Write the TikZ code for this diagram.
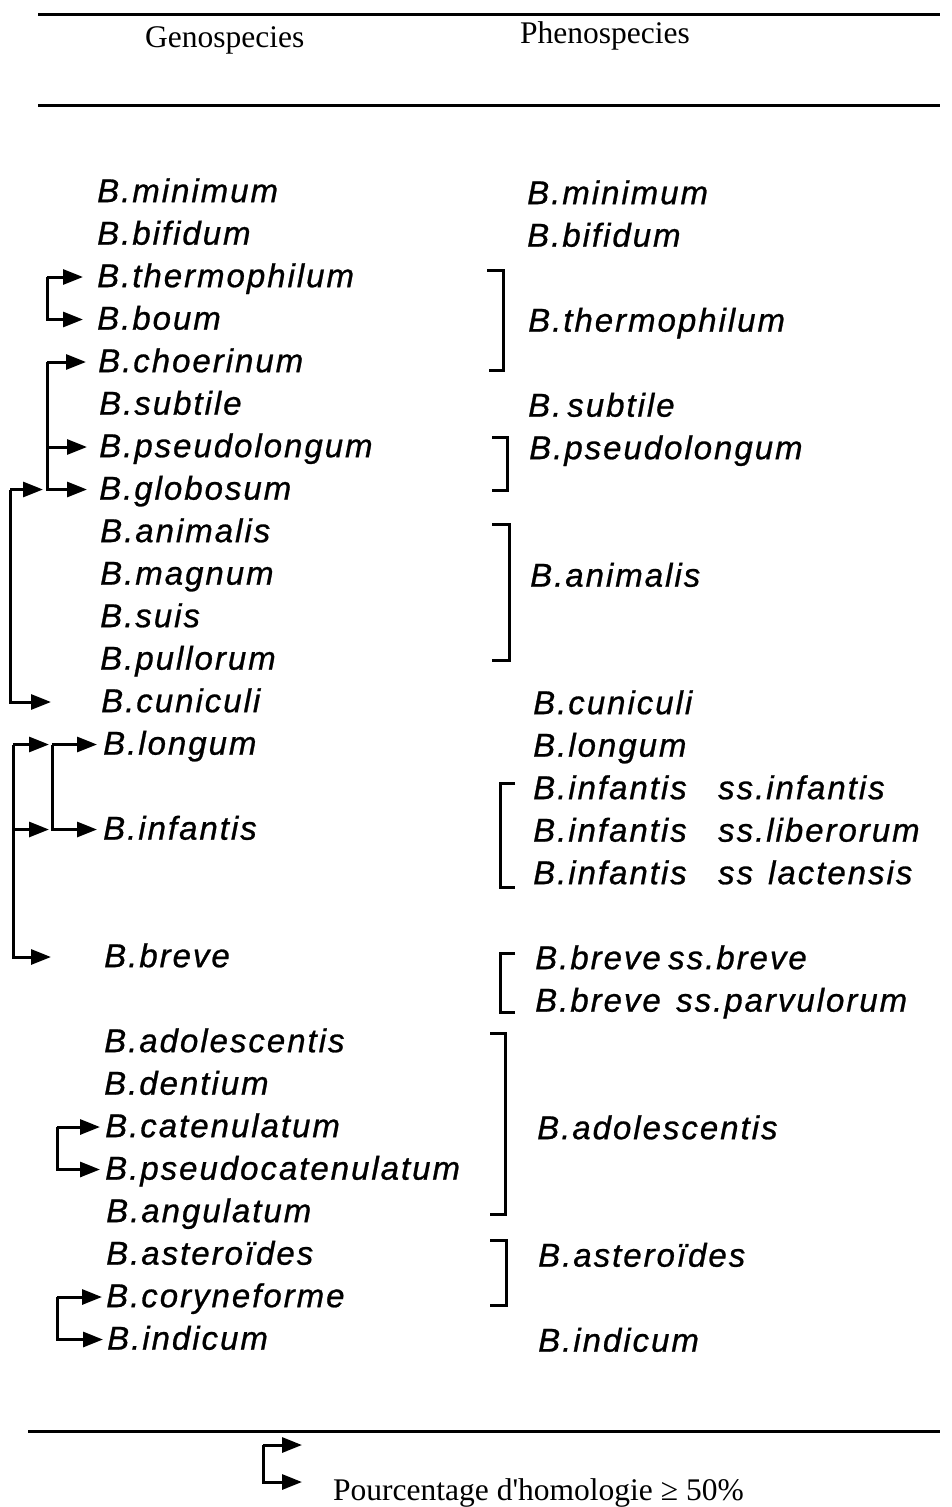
\documentclass[tikz,border=0pt]{standalone}
\usepackage{fontspec}
\usetikzlibrary{arrows.meta,calc}
\newfontfamily\specfont[LetterSpace=6,FakeBold=0.8]{Liberation Sans}
\newfontfamily\headfont{Liberation Serif}
\begin{document}
\begin{tikzpicture}[x=1pt,y=-1pt,
  sp/.style={font=\specfont\itshape\fontsize{33}{33}\selectfont, anchor=mid west, inner sep=0pt},
  hd/.style={font=\headfont\fontsize{31.5}{31.5}\selectfont, anchor=base west, inner sep=0pt},
  ln/.style={line width=3pt, line join=miter, line cap=butt},
  arr/.style={ln, -{Triangle[length=20pt,width=15pt]}}]
\useasboundingbox (0,0) rectangle (952,1507);
% rules
\draw[ln] (38,14) -- (940,14);
\draw[ln] (38,105) -- (940,105);
\draw[ln] (28,1431) -- (940,1431);
\node[hd] (hgeno) at (145,47) {Genospecies};
\node[hd] (hpheno) at (520,43) {Phenospecies};
% left column
\foreach \n/\x/\r/\t in {
  gmin/97/0/B.minimum, gbif/97/1/B.bifidum, gthe/97/2/B.thermophilum, gbou/97/3/B.boum,
  gcho/98/4/B.choerinum, gsub/99/5/B.subtile, gpse/99/6/B.pseudolongum, gglo/99/7/B.globosum,
  gani/100/8/B.animalis, gmag/100/9/B.magnum, gsui/100/10/B.suis, gpul/100/11/B.pullorum,
  gcun/101/12/B.cuniculi, glon/103/13/B.longum, ginf/103/15/B.infantis, gbre/104/18/B.breve,
  gado/104/20/B.adolescentis, gden/104/21/B.dentium, gcat/105/22/B.catenulatum,
  gpca/105/23/B.pseudocatenulatum, gang/106/24/B.angulatum, gast/106/25/B.asteroïdes,
  gcor/106/26/B.coryneforme, gind/107/27/B.indicum}
  \node[sp] (\n) at (\x,192+42.5*\r+8) {\t};
% right column
\foreach \n/\x/\r/\t in {
  pmin/527/0/B.minimum, pbif/527/1/B.bifidum, pthe/528/3/B.thermophilum,
  psub/528/5/{B.\hspace{6pt}subtile}, ppse/529/6/B.pseudolongum, pani/530/9/B.animalis,
  pcun/533/12/B.cuniculi, plon/533/13/B.longum,
  pado/537/22/B.adolescentis, past/538/25/B.asteroïdes, pind/538/27/B.indicum}
  \node[sp] (\n) at (\x,194+42.5*\r+8) {\t};
\node[sp] (pinf1) at (533,194+42.5*14+8) {\makebox[185pt][l]{B.infantis}ss.infantis};
\node[sp] (pinf2) at (533,194+42.5*15+8) {\makebox[185pt][l]{B.infantis}ss.liberorum};
\node[sp] (pinf3) at (533,194+42.5*16+8) {\makebox[185pt][l]{B.infantis}\makebox[50pt][l]{ss}lactensis};
\node[sp] (pbre1) at (535,194+42.5*18+8) {\makebox[133pt][l]{B.breve}ss.breve};
\node[sp] (pbre2) at (535,194+42.5*19+8) {\makebox[141pt][l]{B.breve}ss.parvulorum};
% arrow tips
\foreach \n/\g in {gthe/14, gbou/14, gcho/12, gpse/12, gglo/12, glon/6, ginf/6, gcat/5, gpca/5, gcor/4, gind/4}
  \coordinate (t-\n) at ([xshift=-\g pt,yshift=8pt]\n.mid west);
\coordinate (v1) at (47,0);
\coordinate (v2) at (47,0);
\coordinate (v3) at (10,0);
\coordinate (v4) at (52,0);
\coordinate (v5) at (13,0);
\coordinate (v6) at (57,0);
\coordinate (v7) at (57,0);
% thermophilum / boum
\draw[arr] (t-gthe -| v1) -- (t-gthe);
\draw[arr] (t-gthe -| v1) -- (t-gbou -| v1) -- (t-gbou);
% choerinum group
\draw[arr] (t-gcho -| v2) -- (t-gcho);
\draw[arr] (t-gpse -| v2) -- (t-gpse);
\draw[arr] (t-gcho -| v2) -- (t-gglo -| v2) -- (t-gglo);
% outer
\coordinate (o1) at ([xshift=-4pt]t-gglo -| v2);
\coordinate (t-gcun) at ([xshift=-50pt,yshift=8pt]gcun.mid west);
\draw[arr] (t-gglo -| v3) -- (o1);
\draw[arr] (t-gglo -| v3) -- (t-gcun -| v3) -- (t-gcun);
% longum / infantis
\draw[arr] (t-glon -| v4) -- (t-glon);
\draw[arr] (t-glon -| v4) -- (t-ginf -| v4) -- (t-ginf);
\coordinate (o2) at ([xshift=-3pt]t-glon -| v4);
\coordinate (o3) at ([xshift=-3pt]t-ginf -| v4);
\coordinate (t-gbre) at ([xshift=-53pt,yshift=8pt]gbre.mid west);
\draw[arr] (t-glon -| v5) -- (o2);
\draw[arr] (t-ginf -| v5) -- (o3);
\draw[arr] (t-glon -| v5) -- (t-gbre -| v5) -- (t-gbre);
% catenulatum
\draw[arr] (t-gcat -| v6) -- (t-gcat);
\draw[arr] (t-gcat -| v6) -- (t-gpca -| v6) -- (t-gpca);
% coryneforme
\draw[arr] (t-gcor -| v7) -- (t-gcor);
\draw[arr] (t-gcor -| v7) -- (t-gind -| v7) -- (t-gind);
% brackets
\draw[ln] (487,270) -- (503,270) -- (503,370) -- (489,370);
\draw[ln] (492,437) -- (507,437) -- (507,490) -- (492,490);
\draw[ln] (492,524) -- (509,524) -- (509,660) -- (492,660);
\draw[ln] (515,783) -- (500,783) -- (500,887) -- (515,887);
\draw[ln] (515,953) -- (500,953) -- (500,1012) -- (515,1012);
\draw[ln] (490,1033) -- (505,1033) -- (505,1214) -- (490,1214);
\draw[ln] (490,1240) -- (506,1240) -- (506,1305) -- (490,1305);
% legend
\node[hd] (leg) at (333,1500) {Pourcentage d'homologie ≥ 50\%};
\coordinate (l1) at (302,1445);
\coordinate (l2) at (302,1482);
\coordinate (lv) at (263,0);
\draw[arr] (l1 -| lv) -- (l1);
\draw[arr] (l1 -| lv) -- (l2 -| lv) -- (l2);
\end{tikzpicture}
\end{document}
